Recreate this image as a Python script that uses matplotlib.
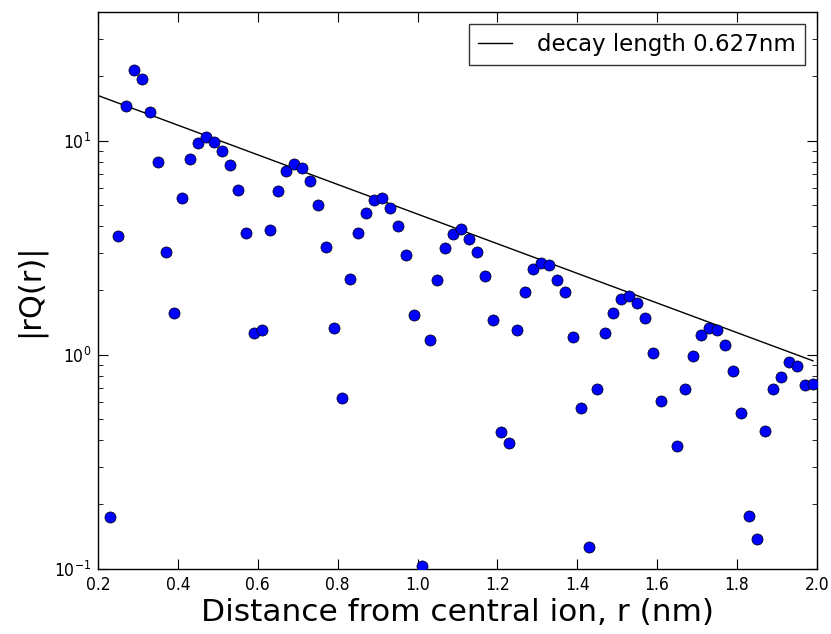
import numpy as np
import matplotlib
matplotlib.use("Agg")
import matplotlib.pyplot as plt
from matplotlib.font_manager import FontProperties

# distance r (nm) and |rQ(r)|; 1.63 lies below the axis
r = [0.23, 0.25, 0.27, 0.29, 0.31, 0.33, 0.35, 0.37, 0.39, 0.41,
     0.43, 0.45, 0.47, 0.49, 0.51, 0.53, 0.55, 0.57, 0.59, 0.61,
     0.63, 0.65, 0.67, 0.69, 0.71, 0.73, 0.75, 0.77, 0.79, 0.81,
     0.83, 0.85, 0.87, 0.89, 0.91, 0.93, 0.95, 0.97, 0.99, 1.01,
     1.03, 1.05, 1.07, 1.09, 1.11, 1.13, 1.15, 1.17, 1.19, 1.21,
     1.23, 1.25, 1.27, 1.29, 1.31, 1.33, 1.35, 1.37, 1.39, 1.41,
     1.43, 1.45, 1.47, 1.49, 1.51, 1.53, 1.55, 1.57, 1.59, 1.61,
     1.63, 1.65, 1.67, 1.69, 1.71, 1.73, 1.75, 1.77, 1.79, 1.81,
     1.83, 1.85, 1.87, 1.89, 1.91, 1.93, 1.95, 1.97, 1.99]
rq = [0.174, 3.6, 14.6, 21.5, 19.4, 13.6, 8.0, 3.03, 1.56, 5.4,
      8.26, 9.75, 10.4, 9.9, 9.0, 7.7, 5.9, 3.7, 1.26, 1.30,
      3.81, 5.8, 7.2, 7.8, 7.5, 6.5, 5.0, 3.19, 1.34, 0.63,
      2.25, 3.7, 4.6, 5.27, 5.38, 4.86, 3.99, 2.93, 1.54, 0.103,
      1.17, 2.24, 3.16, 3.66, 3.88, 3.49, 3.03, 2.33, 1.45, 0.435,
      0.386, 1.31, 1.96, 2.51, 2.68, 2.64, 2.24, 1.96, 1.21, 0.565,
      0.126, 0.69, 1.26, 1.56, 1.83, 1.89, 1.75, 1.48, 1.02, 0.61,
      np.nan, 0.373, 0.69, 0.99, 1.24, 1.34, 1.31, 1.11, 0.84, 0.536,
      0.176, 0.138, 0.44, 0.69, 0.79, 0.93, 0.89, 0.72, 0.73]
decay_length = 0.627
amplitude = 22.4

tick_fp = FontProperties(family="DejaVu Sans", stretch="condensed", size=12.5)

fig = plt.figure(figsize=(8.31, 6.34), dpi=100)
ax = fig.add_axes([0.118, 0.103, 0.865, 0.878])

rfit = np.linspace(0.2, 1.99, 200)
ax.plot(rfit, amplitude * np.exp(-rfit / decay_length), color="black", lw=1.0,
        label=f"decay length {decay_length}nm")
ax.plot(r, rq, "o", color="blue", ms=8, mec="black", mew=0.5, zorder=3)

ax.set_yscale("log")
ax.set_xlim(0.2, 2.0)
ax.set_ylim(0.1, 40)
ax.set_xticks(np.arange(0.2, 2.01, 0.2))
ax.tick_params(which="both", direction="in", top=True, right=True)
ax.tick_params(which="major", length=7, width=0.8, pad=5)
ax.tick_params(which="minor", length=3.5, width=0.6)
for lab in ax.get_xticklabels() + ax.get_yticklabels():
    lab.set_fontproperties(tick_fp)
ax.set_xlabel("Distance from central ion, r (nm)", fontsize=22.5, labelpad=3)
ax.set_ylabel("|rQ(r)|", fontsize=22, labelpad=6)
for s in ax.spines.values():
    s.set_linewidth(1.0)

leg = ax.legend(loc="upper right", fontsize=16.5, fancybox=False, handlelength=1.5,
                handletextpad=1.1, borderpad=0.4, borderaxespad=0.5)
leg.get_frame().set_edgecolor("black")
leg.get_frame().set_linewidth(1.0)

fig.savefig("out.png", dpi=100)
